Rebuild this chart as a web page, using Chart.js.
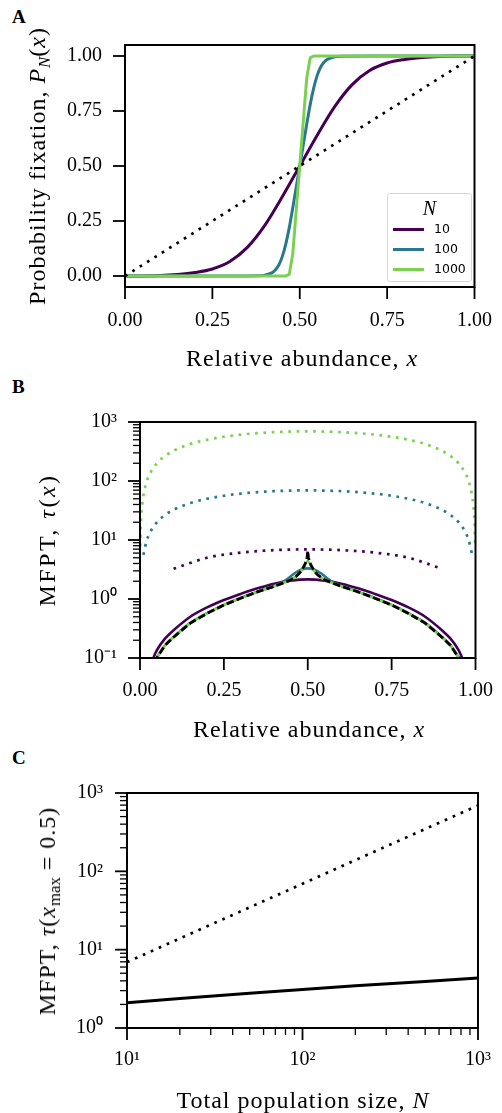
<!DOCTYPE html>
<html>
<head>
<meta charset="utf-8">
<script src="https://cdn.jsdelivr.net/npm/chart.js@4.4.0/dist/chart.umd.min.js"></script>
<style>
  body { margin: 0; background: #fff; }
  #page { position: relative; width: 502px; height: 1113px; overflow: hidden; font-family: 'Liberation Serif', serif; color: #000; }
  .panel { position: absolute; left: 0; }
  .letter { position: absolute; left: 12px; font-weight: bold; font-size: 19px; line-height: 19px; }
  .title { position: absolute; font-size: 24px; line-height: 24px; letter-spacing: 1px; white-space: nowrap; transform: translate(-50%, -50%); }
  .title.rot { transform: translate(-50%, -50%) rotate(-90deg); }
  .title sub { font-size: 70%; vertical-align: -0.3em; line-height: 0; letter-spacing: 0; }
  #legend { position: absolute; left: 387px; top: 193px; width: 85px; height: 89px; box-sizing: border-box;
            border: 1px solid #d6d6d6; border-radius: 3px; background: rgba(255,255,255,0.8); }
  #legend .lt { position: absolute; left: 0; width: 100%; top: 4px; text-align: center; font-size: 20px; line-height: 20px; font-style: italic; }
  #legend .row { position: absolute; left: 0; width: 100%; height: 14px; }
  #legend .sw { position: absolute; left: 5px; top: 5.5px; width: 31px; height: 3px; }
  #legend .lab { position: absolute; left: 46px; top: 0; font-family: 'DejaVu Sans', sans-serif; font-size: 12.5px; line-height: 14px; }
</style>
</head>
<body>
<div id="page">
  <div class="letter" style="top:7px">A</div>
  <div class="letter" style="top:377px">B</div>
  <div class="letter" style="top:748px">C</div>

  <canvas id="chartA" class="panel" style="top:0" width="502" height="370"></canvas>
  <canvas id="chartB" class="panel" style="top:370px" width="502" height="390"></canvas>
  <canvas id="chartC" class="panel" style="top:760px" width="502" height="353"></canvas>

  <div class="title rot" style="left:37px; top:166px">Probability fixation, <i>P</i><sub><i>N</i></sub>(<i>x</i>)</div>
  <div class="title" style="left:302px; top:358px">Relative abundance, <i>x</i></div>
  <div class="title rot" style="left:47px; top:540px; letter-spacing:2.5px">MFPT, <i>τ</i>(<i>x</i>)</div>
  <div class="title" style="left:309px; top:729px">Relative abundance, <i>x</i></div>
  <div class="title rot" style="left:47px; top:911px">MFPT, <i>τ</i>(<i>x</i><sub>max</sub> = 0.5)</div>
  <div class="title" style="left:303px; top:1100px">Total population size, <i>N</i></div>

  <div id="legend"><div class="lt">N</div></div>
</div>

<script>
// population sizes and their colours (viridis-like)
const sizes = ['10', '100', '1000'];
const colors = ['#440154', '#2a788e', '#7ad151'];

// ---- panel A: fixation probability P_N(x)
const xA10 = [0, 0.05, 0.1, 0.15, 0.2, 0.25, 0.3, 0.35, 0.4, 0.45, 0.5, 0.55, 0.6, 0.65, 0.7, 0.75, 0.8, 0.85, 0.9, 0.95, 1];
const pA10 = [0, 0.0003, 0.002, 0.007, 0.016, 0.032, 0.066, 0.13, 0.23, 0.36, 0.5, 0.64, 0.77, 0.87, 0.934, 0.968, 0.984, 0.993, 0.998, 0.9997, 1];
const xA100 = [0, 0.3, 0.38, 0.4, 0.42, 0.43, 0.44, 0.45, 0.46, 0.47, 0.48, 0.49, 0.5, 0.51, 0.52, 0.53, 0.54, 0.55, 0.56, 0.57, 0.58, 0.6, 0.62, 0.7, 1];
const pA100 = [0, 0, 0.001, 0.004, 0.014, 0.027, 0.05, 0.088, 0.145, 0.22, 0.31, 0.405, 0.5, 0.595, 0.69, 0.78, 0.855, 0.912, 0.95, 0.973, 0.986, 0.996, 0.999, 1, 1];
const xA1000 = [0, 0.4, 0.46, 0.47, 0.48, 0.49, 0.5, 0.51, 0.52, 0.53, 0.54, 0.6, 1];
const pA1000 = [0, 0, 0.0005, 0.008, 0.1, 0.3, 0.5, 0.7, 0.9, 0.992, 0.9995, 1, 1];
const xNeutral = [0, 1];
const pNeutral = [0, 1];
const ticksA = [0, 0.25, 0.5, 0.75, 1];

// ---- panel B: MFPT tau(x)
const xB10dot = [0.1, 0.2, 0.3, 0.4, 0.5, 0.6, 0.7, 0.8, 0.9];
const tB10dot = [3.25, 5.0, 6.11, 6.73, 6.93, 6.73, 6.11, 5.0, 3.25];
const xB100dot = [0.01, 0.02, 0.03, 0.05, 0.075, 0.1, 0.15, 0.2, 0.25, 0.3, 0.35, 0.4, 0.45, 0.5, 0.55, 0.6, 0.65, 0.7, 0.75, 0.8, 0.85, 0.9, 0.925, 0.95, 0.97, 0.98, 0.99];
const tB100dot = [5.6, 9.8, 13.5, 19.9, 26.7, 32.5, 42.3, 50.0, 56.2, 61.1, 64.7, 67.3, 68.8, 69.3, 68.8, 67.3, 64.7, 61.1, 56.2, 50.0, 42.3, 32.5, 26.7, 19.9, 13.5, 9.8, 5.6];
const xB1000dot = [0.001, 0.002, 0.004, 0.007, 0.01, 0.02, 0.03, 0.05, 0.075, 0.1, 0.15, 0.2, 0.25, 0.3, 0.35, 0.4, 0.45, 0.5, 0.55, 0.6, 0.65, 0.7, 0.75, 0.8, 0.85, 0.9, 0.925, 0.95, 0.97, 0.98, 0.99, 0.993, 0.996, 0.998, 0.999];
const tB1000dot = [7.9, 14.4, 26, 41.7, 56, 98, 135, 199, 267, 325, 423, 500, 562, 611, 647, 673, 688, 693, 688, 673, 647, 611, 562, 500, 423, 325, 267, 199, 135, 98, 56, 41.7, 26, 14.4, 7.9];

const xB10 = [0.02, 0.03, 0.04, 0.05, 0.075, 0.1, 0.15, 0.2, 0.25, 0.3, 0.35, 0.4, 0.45, 0.5, 0.55, 0.6, 0.65, 0.7, 0.75, 0.8, 0.85, 0.9, 0.925, 0.95, 0.96, 0.97, 0.98];
const tB10 = [0.03, 0.06, 0.1, 0.135, 0.215, 0.295, 0.5, 0.72, 0.96, 1.22, 1.52, 1.82, 2.05, 2.15, 2.05, 1.82, 1.52, 1.22, 0.96, 0.72, 0.5, 0.295, 0.215, 0.135, 0.1, 0.06, 0.03];
const xB100 = [0.02, 0.03, 0.04, 0.05, 0.075, 0.1, 0.15, 0.2, 0.25, 0.3, 0.35, 0.4, 0.42, 0.44, 0.46, 0.48, 0.49, 0.5, 0.51, 0.52, 0.54, 0.56, 0.58, 0.6, 0.65, 0.7, 0.75, 0.8, 0.85, 0.9, 0.925, 0.95, 0.96, 0.97, 0.98];
const tB100 = [0.026, 0.051, 0.079, 0.101, 0.166, 0.227, 0.393, 0.575, 0.795, 1.04, 1.33, 1.66, 1.86, 2.2, 2.7, 3.15, 3.27, 3.3, 3.27, 3.15, 2.7, 2.2, 1.86, 1.66, 1.33, 1.04, 0.795, 0.575, 0.393, 0.227, 0.166, 0.101, 0.079, 0.051, 0.026];
const xB1000 = [0.02, 0.03, 0.04, 0.05, 0.075, 0.1, 0.15, 0.2, 0.25, 0.3, 0.35, 0.4, 0.43, 0.45, 0.47, 0.48, 0.49, 0.495, 0.5, 0.505, 0.51, 0.52, 0.53, 0.55, 0.57, 0.6, 0.65, 0.7, 0.75, 0.8, 0.85, 0.9, 0.925, 0.95, 0.96, 0.97, 0.98];
const tB1000 = [0.025, 0.05, 0.078, 0.1, 0.165, 0.225, 0.39, 0.57, 0.79, 1.03, 1.32, 1.64, 1.9, 2.12, 2.55, 2.95, 3.6, 4.1, 4.35, 4.1, 3.6, 2.95, 2.55, 2.12, 1.9, 1.64, 1.32, 1.03, 0.79, 0.57, 0.39, 0.225, 0.165, 0.1, 0.078, 0.05, 0.025];
const xBdet = [0.02, 0.03, 0.04, 0.05, 0.075, 0.1, 0.15, 0.2, 0.25, 0.3, 0.35, 0.4, 0.43, 0.45, 0.47, 0.48, 0.49, 0.495, 0.498, 0.4995, 0.5, 0.5005, 0.502, 0.505, 0.51, 0.52, 0.53, 0.55, 0.57, 0.6, 0.65, 0.7, 0.75, 0.8, 0.85, 0.9, 0.925, 0.95, 0.96, 0.97, 0.98];
const tBdet = [0.025, 0.05, 0.078, 0.1, 0.165, 0.225, 0.39, 0.57, 0.79, 1.03, 1.32, 1.64, 1.9, 2.12, 2.55, 2.95, 3.7, 4.35, 5.1, 6.0, 6.6, 6.0, 5.1, 4.35, 3.7, 2.95, 2.55, 2.12, 1.9, 1.64, 1.32, 1.03, 0.79, 0.57, 0.39, 0.225, 0.165, 0.1, 0.078, 0.05, 0.025];
const ticksBx = [0, 0.25, 0.5, 0.75, 1];
const majorsBy = [0.1, 1, 10, 100, 1000];

// ---- panel C: MFPT at x = 0.5 against N
const nC = [10, 20, 50, 100, 200, 500, 1000];
const tCneutral = [6.93, 13.9, 34.7, 69.3, 139, 347, 693];
const tCsel = [2.1, 2.38, 2.78, 3.1, 3.45, 3.93, 4.35];
const majorsCx = [10, 100, 1000];
const majorsCy = [1, 10, 100, 1000];

// log axes get minor ticks at 2..9 x each decade
function logTicks(majors) {
  const out = [];
  majors.forEach((m, i) => {
    out.push(m);
    if (i < majors.length - 1) for (let k = 2; k <= 9; k++) out.push(+(m * k).toPrecision(3));
  });
  return out;
}

const SUP = { '-': '⁻', '0': '⁰', '1': '¹', '2': '²', '3': '³' };
const pow10 = v => '10' + String(Math.round(Math.log10(v))).split('').map(c => SUP[c]).join('');
const fixed2 = v => v.toFixed(2);

// frame around the plot area plus outward ticks (long for labelled, short for minor)
const frameTicks = {
  id: 'frameTicks',
  afterDraw(chart) {
    const { ctx, chartArea: a } = chart;
    ctx.save();
    ctx.strokeStyle = '#000';
    Object.values(chart.scales).forEach(s => {
      s.ticks.forEach(t => {
        const major = t.label !== '';
        const len = major ? 12 : 7;
        const p = s.getPixelForValue(t.value);
        ctx.lineWidth = major ? 1.8 : 1.3;
        ctx.beginPath();
        if (s.isHorizontal()) { ctx.moveTo(p, a.bottom); ctx.lineTo(p, a.bottom + len); }
        else { ctx.moveTo(a.left, p); ctx.lineTo(a.left - len, p); }
        ctx.stroke();
      });
    });
    ctx.lineWidth = 2;
    ctx.strokeRect(a.left, a.top, a.right - a.left, a.bottom - a.top);
    ctx.restore();
  }
};

function axis(type, pos, min, max, tickVals, majors, fmt, size, pad) {
  return {
    type, position: pos, min, max,
    afterBuildTicks: ax => { ax.ticks = tickVals.map(v => ({ value: v })); },
    afterFit: ax => { if (pos === 'left') ax.width = size; else ax.height = size; },
    grid: { display: true, drawOnChartArea: false, drawTicks: true, tickLength: 12, tickColor: 'rgba(0,0,0,0)' },
    border: { display: false },
    ticks: {
      autoSkip: false, maxRotation: 0, padding: pad, color: '#000',
      font: { family: 'Liberation Serif', size: 20 },
      callback: v => majors.includes(v) ? fmt(v) : ''
    }
  };
}

function line(xs, ys, color, width, extra) {
  return Object.assign({
    data: xs.map((x, i) => ({ x, y: ys[i] })),
    borderColor: color, borderWidth: width, pointRadius: 0, fill: false,
    cubicInterpolationMode: 'monotone', borderCapStyle: 'butt', clip: 0
  }, extra || {});
}

function baseOptions(pad, scales) {
  return {
    responsive: false, animation: false, devicePixelRatio: 1,
    layout: { padding: pad },
    plugins: { legend: { display: false }, tooltip: { enabled: false } },
    scales
  };
}

Chart.defaults.font.family = 'Liberation Serif';

const dot = [2.7, 6.0];

// Panel A
new Chart(document.getElementById('chartA'), {
  type: 'line',
  data: { datasets: [
    line(xNeutral, pNeutral, '#000', 2.7, { borderDash: dot, order: 0 }),
    line(xA1000, pA1000, colors[2], 3, { cubicInterpolationMode: 'default', tension: 0, order: 1 }),
    line(xA100, pA100, colors[1], 3, { order: 2 }),
    line(xA10, pA10, colors[0], 3, { order: 3 })
  ] },
  options: baseOptions({ top: 45, right: 23, left: 0, bottom: 0 }, {
    x: axis('linear', 'bottom', 0, 1, ticksA, ticksA, fixed2, 83, 10),
    y: axis('linear', 'left', -0.05, 1.05, ticksA, ticksA, fixed2, 125, 11)
  }),
  plugins: [frameTicks]
});

// Panel B
new Chart(document.getElementById('chartB'), {
  type: 'line',
  data: { datasets: [
    line(xBdet, tBdet, '#000', 2.8, { borderDash: [7.4, 3.2], cubicInterpolationMode: 'default', tension: 0, order: 0 }),
    line(xB1000, tB1000, colors[2], 2.6, { order: 1 }),
    line(xB100, tB100, colors[1], 2.6, { order: 2 }),
    line(xB10, tB10, colors[0], 2.6, { order: 3 }),
    line(xB1000dot, tB1000dot, colors[2], 2.7, { borderDash: [2.7, 5.6], order: 4 }),
    line(xB100dot, tB100dot, colors[1], 2.7, { borderDash: [2.7, 5.6], order: 5 }),
    line(xB10dot, tB10dot, colors[0], 2.7, { borderDash: [2.7, 5.6], order: 6 })
  ] },
  options: baseOptions({ top: 52, right: 23, left: 0, bottom: 0 }, {
    x: axis('linear', 'bottom', 0, 1, ticksBx, ticksBx, fixed2, 102, 9),
    y: axis('logarithmic', 'left', 0.1, 1000, logTicks(majorsBy), majorsBy, pow10, 140, 11)
  }),
  plugins: [frameTicks]
});

// Panel C
new Chart(document.getElementById('chartC'), {
  type: 'line',
  data: { datasets: [
    line(nC, tCsel, '#000', 3, { cubicInterpolationMode: 'default', tension: 0, order: 0 }),
    line(nC, tCneutral, '#000', 2.7, { borderDash: dot, cubicInterpolationMode: 'default', tension: 0, order: 1 })
  ] },
  options: baseOptions({ top: 33, right: 24, left: 0, bottom: 0 }, {
    x: axis('logarithmic', 'bottom', 10, 1000, logTicks(majorsCx), majorsCx, pow10, 85, 8),
    y: axis('logarithmic', 'left', 1, 1000, logTicks(majorsCy), majorsCy, pow10, 127, 12)
  }),
  plugins: [frameTicks]
});

// legend for panel A
const legend = document.getElementById('legend');
sizes.forEach((s, i) => {
  const row = document.createElement('div');
  row.className = 'row';
  row.style.top = (28 + i * 20) + 'px';
  row.innerHTML = '<div class="sw" style="background:' + colors[i] + '"></div><div class="lab">' + s + '</div>';
  legend.appendChild(row);
});
</script>
</body>
</html>
